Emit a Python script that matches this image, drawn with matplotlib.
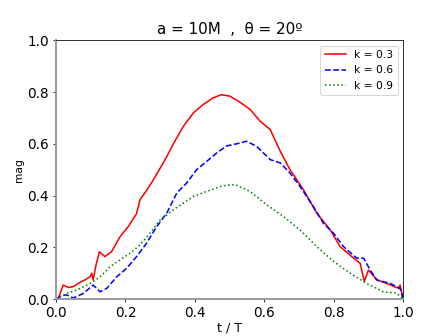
import matplotlib
matplotlib.use("Agg")
import matplotlib.pyplot as plt

t_red = [0.0, 0.007, 0.021, 0.035, 0.05, 0.07, 0.085, 0.098, 0.103, 0.107, 0.115, 0.125, 0.141, 0.16, 0.184,
         0.208, 0.232, 0.242, 0.261, 0.28, 0.30, 0.319, 0.338, 0.367, 0.396, 0.424, 0.453, 0.477, 0.501,
         0.525, 0.559, 0.588, 0.617, 0.646, 0.674, 0.713, 0.751, 0.79, 0.818, 0.857, 0.876, 0.888, 0.90,
         0.924, 0.953, 0.987, 0.991, 1.0]
y_red = [0.0, 0.004, 0.054, 0.045, 0.048, 0.065, 0.075, 0.086, 0.10, 0.074, 0.13, 0.183, 0.164, 0.183, 0.24,
         0.28, 0.33, 0.384, 0.42, 0.46, 0.506, 0.55, 0.60, 0.668, 0.72, 0.752, 0.778, 0.79, 0.784,
         0.765, 0.733, 0.687, 0.655, 0.571, 0.5, 0.422, 0.332, 0.267, 0.203, 0.158, 0.138, 0.068, 0.112,
         0.074, 0.06, 0.041, 0.054, 0.0]

t_blue = [0.0, 0.015, 0.031, 0.05, 0.079, 0.107, 0.127, 0.146, 0.175, 0.203, 0.232, 0.261, 0.29, 0.319,
          0.348, 0.376, 0.405, 0.434, 0.463, 0.492, 0.53, 0.549, 0.578, 0.617, 0.646, 0.674, 0.703, 0.741,
          0.77, 0.799, 0.828, 0.866, 0.886, 0.905, 0.924, 0.963, 0.991, 1.0]
y_blue = [0.0, 0.012, 0.016, 0.004, 0.022, 0.054, 0.028, 0.041, 0.086, 0.118, 0.164, 0.216, 0.28, 0.332,
          0.41, 0.448, 0.5, 0.532, 0.565, 0.592, 0.603, 0.61, 0.59, 0.539, 0.526, 0.487, 0.435, 0.358,
          0.293, 0.255, 0.203, 0.158, 0.158, 0.112, 0.074, 0.06, 0.041, 0.0]

t_green = [0.0, 0.031, 0.06, 0.098, 0.127, 0.156, 0.184, 0.213, 0.242, 0.271, 0.30, 0.338, 0.367, 0.396,
           0.434, 0.473, 0.501, 0.516, 0.559, 0.607, 0.655, 0.703, 0.751, 0.799, 0.847, 0.895, 0.943,
           0.982, 1.0]
y_green = [0.0, 0.022, 0.035, 0.06, 0.086, 0.125, 0.151, 0.177, 0.209, 0.255, 0.306, 0.345, 0.371, 0.397,
           0.416, 0.435, 0.442, 0.442, 0.416, 0.364, 0.319, 0.267, 0.203, 0.146, 0.10, 0.06, 0.028,
           0.022, 0.0]

labels = ["k = 0.3", "k = 0.6", "k = 0.9"]

fig, ax = plt.subplots(figsize=(6.4, 4.8), dpi=70)
ax.plot(t_red, y_red, color="red", linestyle="-", linewidth=1.6, label=labels[0])
ax.plot(t_blue, y_blue, color="blue", linestyle="--", linewidth=1.6, label=labels[1])
ax.plot(t_green, y_green, color="green", linestyle=":", linewidth=1.6, label=labels[2])

ax.set_xlim(0, 1)
ax.set_ylim(0, 1)
ax.set_xticks([0.0, 0.2, 0.4, 0.6, 0.8, 1.0])
ax.set_yticks([0.0, 0.2, 0.4, 0.6, 0.8, 1.0])
ax.tick_params(labelsize=14)
ax.set_xlabel("t / T", fontsize=13, labelpad=2)
ax.set_ylabel("mag", fontsize=11)
ax.set_title("a = 10M  ,  θ = 20º", fontsize=15.5)
for s in ["left", "bottom"]:
    ax.spines[s].set_color("#999999")
    ax.spines[s].set_linewidth(2)
ax.legend(loc="upper right", fontsize=11)
fig.savefig("out.png", dpi=70)
